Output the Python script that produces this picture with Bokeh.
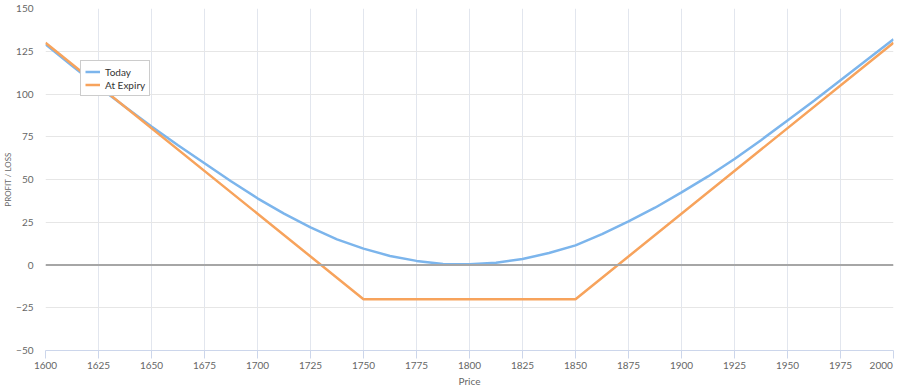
from bokeh.plotting import figure
from bokeh.models import FixedTicker, Span, Legend, LegendItem
from bokeh.embed import file_html
from bokeh.resources import INLINE

# Data
price = [1600, 1612.5, 1625, 1637.5, 1650, 1662.5, 1675, 1687.5, 1700, 1712.5,
         1725, 1737.5, 1750, 1762.5, 1775, 1787.5, 1800, 1812.5, 1825, 1837.5,
         1850, 1862.5, 1875, 1887.5, 1900, 1912.5, 1925, 1937.5, 1950, 1962.5,
         1975, 1987.5, 2000]
today = [129, 116.5, 104.3, 92.5, 81, 70, 59.5, 49, 39, 30,
         22, 15, 9.6, 5.3, 2.4, 0.6, 0.4, 1.3, 3.5, 7,
         11.5, 18, 25.5, 33.5, 42.5, 51.8, 62, 73, 84.5, 96,
         108, 120, 132]
expiry_price = [1600, 1750, 1850, 2000]
expiry = [130, -20, -20, 130]

x_ticks = list(range(1600, 2001, 25))
y_ticks = list(range(-50, 151, 25))

FONT = "Lato"

p = figure(width=900, height=389, x_range=(1600, 2000), y_range=(-50, 150),
           output_backend="svg", toolbar_location=None,
           min_border_left=0, min_border_right=7, min_border_top=8, min_border_bottom=0)
p.outline_line_color = None
p.background_fill_color = "white"

# grids
p.xgrid.ticker = FixedTicker(ticks=x_ticks)
p.ygrid.ticker = FixedTicker(ticks=y_ticks)
p.xgrid.grid_line_color = "#e2e6ee"
p.ygrid.grid_line_color = "#e6e6e6"

# x axis
xa = p.xaxis[0]
xa.ticker = FixedTicker(ticks=x_ticks)
xa.axis_line_color = "#ccd6eb"
xa.major_tick_line_color = "#ccd6eb"
xa.major_tick_out = 8
xa.major_tick_in = 0
xa.minor_tick_line_color = None
xa.major_label_standoff = 0
# last label padded with no-break spaces so it stays inside the canvas (right aligned look)
xa.major_label_overrides = {x_ticks[-1]: str(x_ticks[-1]) + "\u00a0" * 3}
xa.major_label_text_font = FONT
xa.major_label_text_font_size = "10px"
xa.major_label_text_color = "#666666"
xa.axis_label = "Price"
xa.axis_label_text_font = FONT
xa.axis_label_text_font_size = "10px"
xa.axis_label_text_font_style = "normal"
xa.axis_label_text_color = "#666666"
xa.axis_label_standoff = 1

# y axis
ya = p.yaxis[0]
ya.ticker = FixedTicker(ticks=y_ticks)
ya.axis_line_color = None
ya.major_tick_line_color = None
ya.minor_tick_line_color = None
ya.major_label_standoff = 6
ya.major_label_text_font = FONT
ya.major_label_text_font_size = "10px"
ya.major_label_text_color = "#666666"
ya.axis_label = "PROFIT / LOSS"
ya.axis_label_text_font = FONT
ya.axis_label_text_font_size = "8px"
ya.axis_label_text_font_style = "normal"
ya.axis_label_text_color = "#666666"
ya.axis_label_standoff = 0

# zero line
p.add_layout(Span(location=0, dimension="width", line_color="#a6a6a6", line_width=2))

r_today = p.line(price, today, line_color="#7cb5ec", line_width=2.5)
r_exp = p.line(expiry_price, expiry, line_color="#f7a35c", line_width=2.5)

legend = Legend(items=[LegendItem(label="Today", renderers=[r_today]),
                       LegendItem(label="At Expiry", renderers=[r_exp])],
                location=(35, 254), margin=0, padding=4, spacing=0,
                glyph_width=15, glyph_height=13, label_height=13, label_standoff=5,
                label_text_font=FONT, label_text_font_size="10px", label_text_color="#333333",
                border_line_color="#999999", border_line_width=1,
                background_fill_color="white", background_fill_alpha=1)
p.add_layout(legend)

open("out.html", "w").write(file_html(p, INLINE))
